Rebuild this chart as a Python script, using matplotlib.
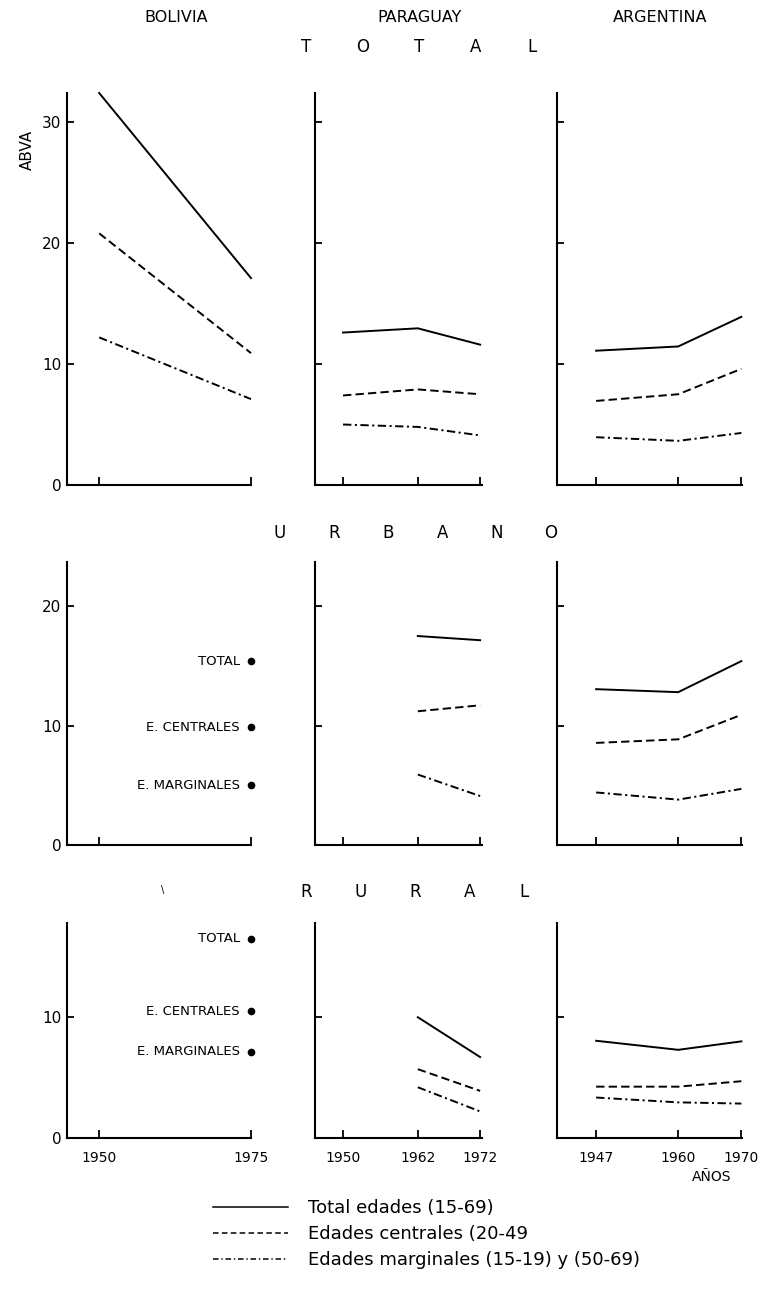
import matplotlib
matplotlib.use('Agg')
import matplotlib.pyplot as plt
from matplotlib.lines import Line2D

plt.rcParams['font.family'] = ['DejaVu Sans']
plt.rcParams['lines.scale_dashes'] = False

# --- data (ABVA values) ---
countries = ['BOLIVIA', 'PARAGUAY', 'ARGENTINA']
bol_years = [1950, 1975]
par_years = [1950, 1962, 1972]
arg_years = [1947, 1960, 1970]

# TOTAL
bol_tot_total = [32.4, 17.1]
bol_tot_cent = [20.8, 10.9]
bol_tot_marg = [12.2, 7.1]
par_tot_total = [12.6, 12.95, 11.6]
par_tot_cent = [7.4, 7.9, 7.5]
par_tot_marg = [5.0, 4.8, 4.1]
arg_tot_total = [11.1, 11.45, 13.9]
arg_tot_cent = [6.95, 7.5, 9.6]
arg_tot_marg = [3.95, 3.65, 4.3]

# URBANO
par_sub_years = [1962, 1972]
bol_urb_points = [15.4, 9.85, 5.0]
par_urb_total = [17.5, 17.15]
par_urb_cent = [11.2, 11.7]
par_urb_marg = [5.9, 4.1]
arg_urb_total = [13.05, 12.8, 15.4]
arg_urb_cent = [8.55, 8.85, 10.9]
arg_urb_marg = [4.4, 3.8, 4.7]

# RURAL
bol_rur_points = [16.5, 10.5, 7.15]
par_rur_total = [10.0, 6.7]
par_rur_cent = [5.7, 3.9]
par_rur_marg = [4.2, 2.2]
arg_rur_total = [8.05, 7.3, 8.0]
arg_rur_cent = [4.25, 4.25, 4.7]
arg_rur_marg = [3.35, 2.95, 2.85]

point_labels = ['TOTAL', 'E. CENTRALES', 'E. MARGINALES']
legend_labels = ['Total edades (15-69)', 'Edades centrales (20-49',
                 'Edades marginales (15-19) y (50-69)']

W, H = 763, 1290
fig = plt.figure(figsize=(W / 100, H / 100), dpi=100)


def px_axes(left, top, right, bottom):
    return fig.add_axes([left / W, 1 - bottom / H, (right - left) / W, (bottom - top) / H])


# pixel layout
rows = [(93, 485), (562, 845), (923, 1138)]
ylims = [32.4, 23.7, 17.8]
yticks = [[0, 10, 20, 30], [0, 10, 20], [0, 10]]
cols = [(67, 251), (315, 482), (557, 742)]
xlims = [(1944.7, 1975), (1945.5, 1972.3), (1940.8, 1970.1)]
years = [bol_years, par_years, arg_years]

styles = [dict(ls='-'), dict(ls=(0, (6, 3))), dict(ls=(0, (6, 2.5, 1.5, 2.5)))]
lw = 1.4

series = {
    (0, 0): (bol_years, [bol_tot_total, bol_tot_cent, bol_tot_marg]),
    (0, 1): (par_years, [par_tot_total, par_tot_cent, par_tot_marg]),
    (0, 2): (arg_years, [arg_tot_total, arg_tot_cent, arg_tot_marg]),
    (1, 1): (par_sub_years, [par_urb_total, par_urb_cent, par_urb_marg]),
    (1, 2): (arg_years, [arg_urb_total, arg_urb_cent, arg_urb_marg]),
    (2, 1): (par_sub_years, [par_rur_total, par_rur_cent, par_rur_marg]),
    (2, 2): (arg_years, [arg_rur_total, arg_rur_cent, arg_rur_marg]),
}
points = {(1, 0): bol_urb_points, (2, 0): bol_rur_points}

for r, (top, bottom) in enumerate(rows):
    for c, (left, right) in enumerate(cols):
        ax = px_axes(left, top, right, bottom)
        ax.set_xlim(*xlims[c])
        ax.set_ylim(0, ylims[r])
        for s in ['top', 'right']:
            ax.spines[s].set_visible(False)
        for s in ['left', 'bottom']:
            ax.spines[s].set_linewidth(1.5)
        ax.set_xticks(years[c])
        ax.set_yticks(yticks[r])
        ax.tick_params(axis='x', direction='in', length=6, width=1.3, pad=9, labelsize=10)
        ax.tick_params(axis='y', direction='in', length=5, width=1.3, pad=4, labelsize=11)
        if r < 2:
            ax.set_xticklabels([])
        if c > 0:
            ax.set_yticklabels([])

        if (r, c) in series:
            xs, ys_list = series[(r, c)]
            for ys, st in zip(ys_list, styles):
                ax.plot(xs, ys, color='black', lw=lw, clip_on=False, **st)
        if (r, c) in points:
            for val, lab in zip(points[(r, c)], point_labels):
                ax.plot(bol_years[-1], val, 'o', color='black', ms=4.5, clip_on=False)
                ax.annotate(lab, (bol_years[-1], val), xytext=(-8, 0),
                            textcoords='offset points', ha='right', va='center',
                            fontsize=9.5)

# titles
col_title_x = [176, 420, 660]
for name, x in zip(countries, col_title_x):
    fig.text(x / W, 1 - 18 / H, name, ha='center', va='center', fontsize=11.5)


def spaced_title(word, x0, y, step=55):
    for i, ch in enumerate(word):
        fig.text((x0 + i * step) / W, 1 - y / H, ch, ha='center', va='center',
                 fontsize=12)


spaced_title('TOTAL', 306, 47, 56.5)
spaced_title('URBANO', 280, 533, 54.2)
spaced_title('RURAL', 306, 892, 54.5)

fig.text(27 / W, 1 - 150 / H, 'ABVA', rotation=90, ha='center', va='center', fontsize=11)
fig.text(712 / W, 1 - 1177 / H, 'AÑOS', ha='center', va='center', fontsize=10)
# small stray stroke present in the scanned original
fig.text(163 / W, 1 - 890 / H, '\\', ha='center', va='center', fontsize=7)

# legend
handles = [Line2D([], [], color='black', lw=1.1, ls='-'),
           Line2D([], [], color='black', lw=1.1, ls=(0, (4, 2.4))),
           Line2D([], [], color='black', lw=1.1, ls=(0, (4, 2, 1, 2)))]
fig.legend(handles, legend_labels, loc='upper left',
           bbox_to_anchor=(213 / W, 1 - 1199 / H), frameon=False,
           fontsize=13, handlelength=4.15, handletextpad=1.1,
           labelspacing=0.45, borderpad=0, borderaxespad=0)

fig.savefig('out.png', dpi=100)
